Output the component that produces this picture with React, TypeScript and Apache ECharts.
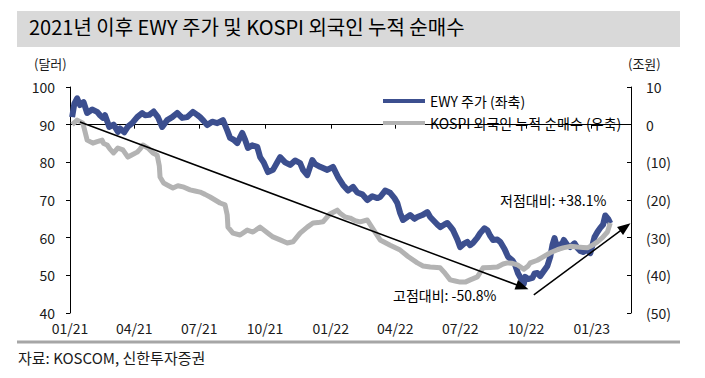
import React, { useEffect, useRef } from "react";
import * as echarts from "echarts";

// ---- data ----
const ewyDates = [
  "2021-01-04","2021-01-07","2021-01-11","2021-01-15","2021-01-20","2021-01-25","2021-02-01","2021-02-08","2021-02-12","2021-02-16",
  "2021-02-19","2021-02-25","2021-03-03","2021-03-09","2021-03-12","2021-03-18","2021-03-23","2021-03-29","2021-04-05","2021-04-12",
  "2021-04-16","2021-04-22","2021-04-28","2021-05-04","2021-05-10","2021-05-17","2021-05-24","2021-05-31","2021-06-07","2021-06-14",
  "2021-06-22","2021-06-28","2021-07-02","2021-07-07","2021-07-12","2021-07-19","2021-07-26","2021-08-03","2021-08-09","2021-08-13",
  "2021-08-18","2021-08-23","2021-08-30","2021-09-03","2021-09-07","2021-09-13","2021-09-20","2021-09-24","2021-09-29","2021-10-05",
  "2021-10-12","2021-10-18","2021-10-22","2021-10-29","2021-11-05","2021-11-12","2021-11-19","2021-11-23","2021-11-29","2021-12-06",
  "2021-12-10","2021-12-17","2021-12-27","2022-01-04","2022-01-11","2022-01-18","2022-01-25","2022-02-01","2022-02-07","2022-02-14",
  "2022-02-21","2022-02-28","2022-03-07","2022-03-11","2022-03-18","2022-03-25","2022-03-31","2022-04-04","2022-04-08","2022-04-12",
  "2022-04-18","2022-04-22","2022-04-28","2022-05-02","2022-05-09","2022-05-16","2022-05-20","2022-05-24","2022-05-30","2022-06-03",
  "2022-06-09","2022-06-13","2022-06-17","2022-06-21","2022-06-27","2022-07-01","2022-07-07","2022-07-11","2022-07-15","2022-07-19",
  "2022-07-25","2022-07-29","2022-08-04","2022-08-08","2022-08-12","2022-08-16","2022-08-22","2022-08-26","2022-09-01","2022-09-06",
  "2022-09-12","2022-09-16","2022-09-20","2022-09-26","2022-09-28","2022-09-30","2022-10-04","2022-10-10","2022-10-13","2022-10-17",
  "2022-10-21","2022-10-25","2022-10-31","2022-11-04","2022-11-07","2022-11-10","2022-11-14","2022-11-16","2022-11-21","2022-11-23",
  "2022-11-28","2022-12-02","2022-12-08","2022-12-12","2022-12-16","2022-12-20","2022-12-26","2022-12-30","2023-01-02","2023-01-05",
  "2023-01-09","2023-01-13","2023-01-17","2023-01-20","2023-01-24","2023-01-27"
];
const ewyPrice = [
  92, 95.5, 97, 95.2, 96, 93.1, 94, 93.4, 92.5, 91.8,
  92.5, 89.4, 90, 88.1, 89, 88, 89.5, 90.4, 92, 93.1,
  92.5, 92.6, 93.5, 92, 89.4, 91.2, 92, 93.1, 91.8, 92,
  93.4, 92.6, 92, 91, 89.9, 90.8, 90.4, 91.2, 88.5, 86.5,
  86, 85.1, 87.8, 86, 83.8, 84.5, 84.1, 81.4, 80, 77.4,
  78, 80, 81.4, 80, 79.3, 80.5, 79.8, 78, 76.6, 80.6,
  79.5, 78.8, 78, 78.8, 76.1, 74, 72.5, 73.5, 72, 71.5,
  70, 71, 70.5, 70.8, 72.5, 71.9, 70.5, 69.2, 66.5, 64.7,
  65.5, 66, 65, 65.5, 66, 66.8, 65.5, 64.7, 63.5, 62.8,
  63.5, 63.9, 63, 62, 59.5, 57.5, 58.5, 58.9, 58, 58.6,
  60, 61.2, 62.5, 62, 60.5, 59.4, 59.5, 58.9, 57, 54.9,
  54, 52.7, 50.5, 48.5, 47.7, 49.6, 49, 49.3, 50.5, 50.6,
  49.8, 50.9, 52.5, 54.9, 58, 59.9, 57, 58, 58.5, 59.4,
  58, 57.5, 58.5, 57.3, 56.5, 56.2, 56.8, 55.9, 58, 60.2,
  61.5, 62.6, 63.5, 65.9, 65, 63.8
];

const kospiDates = [
  "2021-01-04","2021-01-11","2021-01-15","2021-01-19","2021-01-25","2021-01-29","2021-02-02","2021-02-08","2021-02-15","2021-02-17",
  "2021-02-22","2021-02-26","2021-03-03","2021-03-09","2021-03-16","2021-03-23","2021-03-29","2021-04-05","2021-04-09","2021-04-13",
  "2021-04-20","2021-04-27","2021-05-03","2021-05-06","2021-05-07","2021-05-12","2021-05-17","2021-05-25","2021-06-01","2021-06-08",
  "2021-06-18","2021-06-25","2021-07-02","2021-07-09","2021-07-16","2021-07-23","2021-07-30","2021-08-06","2021-08-09","2021-08-10",
  "2021-08-17","2021-08-27","2021-09-06","2021-09-14","2021-09-24","2021-10-05","2021-10-12","2021-10-22","2021-11-01","2021-11-09",
  "2021-11-19","2021-11-29","2021-12-07","2021-12-14","2021-12-21","2021-12-30","2022-01-10","2022-01-14","2022-01-21","2022-01-28",
  "2022-02-04","2022-02-11","2022-02-21","2022-03-02","2022-03-11","2022-03-25","2022-04-08","2022-04-19","2022-05-02","2022-05-10",
  "2022-05-20","2022-06-03","2022-06-10","2022-06-17","2022-06-24","2022-07-01","2022-07-08","2022-07-15","2022-07-25","2022-08-02",
  "2022-08-12","2022-08-22","2022-08-30","2022-09-05","2022-09-12","2022-09-19","2022-09-28","2022-10-04","2022-10-07","2022-10-17",
  "2022-10-25","2022-11-04","2022-11-14","2022-11-22","2022-12-02","2022-12-12","2022-12-20","2022-12-26","2023-01-02","2023-01-09",
  "2023-01-16","2023-01-23","2023-01-27"
];
const kospiNetBuy = [
  0, 1.2, 0.8, 0.4, -4.1, -4.5, -4.9, -4.5, -4.1, -5,
  -5.4, -6.5, -7.5, -6.2, -6.7, -8.6, -8, -7.3, -6.5, -5.4,
  -6.2, -7.5, -8.1, -11, -13.9, -15.5, -16, -16.8, -16.2, -16.5,
  -17.3, -17.6, -17.9, -18.5, -19.2, -20, -20.8, -21.3, -24, -27.2,
  -28.8, -29.3, -28, -28.5, -27.2, -28.8, -29.8, -30.6, -31.4, -31.1,
  -28.8, -27.2, -26.1, -26, -25.8, -23.8, -22.7, -23.5, -24.5, -24.8,
  -25.5, -25.8, -25.3, -28, -30.6, -32, -33.3, -35, -36.7, -37.5,
  -37.8, -38, -39.5, -41.2, -41.5, -41.8, -41.8, -41.2, -40.4, -38,
  -37.9, -37.8, -37, -36.7, -36.8, -37.2, -38.4, -37.5, -36.7, -36,
  -35.1, -34, -33.2, -32.7, -32.3, -32.5, -32.6, -32.7, -32, -31.1,
  -30, -28.5, -26.1
];

const xTickDates = ["2021-01-01","2021-04-01","2021-07-01","2021-10-01","2022-01-01","2022-04-01","2022-07-01","2022-10-01","2023-01-01"];
const xAxisEnd = "2023-02-25";
const leftTicks = { min: 40, max: 100, interval: 10 };
const rightTicks = { min: -50, max: 10, interval: 10 };

// trend arrows: [date, EWY-axis value]
const arrowDown = [["2021-01-15", 90.7], ["2022-09-26", 46.9]];
const arrowUp = [["2022-10-12", 44.8], ["2023-02-17", 62.8]];

const seriesNames = ["EWY 주가 (좌축)", "KOSPI 외국인 누적 순매수 (우축)"];
const titleText = "2021년 이후 EWY 주가 및 KOSPI 외국인 누적 순매수";
const sourceText = "자료: KOSCOM, 신한투자증권";
const lowNote = "저점대비: +38.1%";
const highNote = "고점대비: -50.8%";

const FONT = "'Noto Sans CJK KR', 'Noto Sans', sans-serif";
const BASE = Date.parse("2021-01-01T00:00:00Z");
const dayOf = (s: string) => (Date.parse(s + "T00:00:00Z") - BASE) / 86400000;

export default function App() {
  const ref = useRef<HTMLDivElement>(null);
  useEffect(() => {
    if (!ref.current) return;
    const chart = echarts.init(ref.current, null, { renderer: "svg" });
    const ticks = xTickDates.map(dayOf);
    const fmtX = (v: number) => {
      const d = new Date(BASE + Math.round(v) * 86400000);
      const mm = String(d.getUTCMonth() + 1).padStart(2, "0");
      const yy = String(d.getUTCFullYear() % 100).padStart(2, "0");
      return `${mm}/${yy}`;
    };
    const option: any = {
      animation: false,
      backgroundColor: "#ffffff",
      textStyle: { fontFamily: FONT },
      grid: { left: 70, right: 74, top: 87, bottom: 65, containLabel: false },
      legend: {
        orient: "vertical",
        left: 383,
        top: 93,
        padding: 0,
        itemGap: 6,
        itemWidth: 42,
        itemHeight: 4,
        icon: "rect",
        textStyle: { fontFamily: FONT, fontSize: 14, color: "#000", lineHeight: 16, padding: [0, 0, 0, 0] },
        data: seriesNames,
      },
      xAxis: {
        type: "value",
        min: 0,
        max: dayOf(xAxisEnd),
        splitLine: { show: false },
        axisLine: { show: true, lineStyle: { color: "#000", width: 1 } },
        axisTick: { show: true, length: 4, customValues: ticks, lineStyle: { color: "#000" } },
        axisLabel: { customValues: ticks, formatter: fmtX, fontFamily: FONT, fontSize: 14, color: "#1a1a1a", margin: 8 },
      },
      yAxis: [
        {
          type: "value",
          position: "left",
          ...leftTicks,
          splitLine: { show: false },
          axisLine: { show: true, lineStyle: { color: "#000", width: 1 } },
          axisTick: { show: true, length: 4, lineStyle: { color: "#000" } },
          axisLabel: { fontFamily: FONT, fontSize: 14, color: "#1a1a1a", margin: 15 },
        },
        {
          type: "value",
          position: "right",
          ...rightTicks,
          splitLine: { show: false },
          axisLine: { show: true, lineStyle: { color: "#000", width: 1 } },
          axisTick: { show: true, inside: true, length: 4, lineStyle: { color: "#000" } },
          axisLabel: {
            fontFamily: FONT, fontSize: 14, color: "#1a1a1a", margin: 15,
            formatter: (v: number) => (v < 0 ? `(${-v})` : `${v}`),
          },
        },
      ],
      series: [
        {
          name: seriesNames[0],
          type: "line",
          yAxisIndex: 0,
          showSymbol: false,
          color: "#3c4f8f",
          lineStyle: { color: "#3c4f8f", width: 6, join: "round" },
          data: ewyDates.map((d, i) => [dayOf(d), ewyPrice[i]]),
          markLine: {
            silent: true,
            symbol: ["none", "triangle"],
            symbolSize: [10, 13],
            label: { show: false },
            lineStyle: { color: "#000", width: 1.5, type: "solid" },
            itemStyle: { color: "#000" },
            data: [arrowDown, arrowUp].map((a) => [
              { coord: [dayOf(a[0][0] as string), a[0][1]] },
              { coord: [dayOf(a[1][0] as string), a[1][1]] },
            ]),
          },
        },
        {
          name: seriesNames[1],
          type: "line",
          yAxisIndex: 1,
          showSymbol: false,
          color: "#b3b3b3",
          lineStyle: { color: "#b3b3b3", width: 5, join: "round" },
          data: kospiDates.map((d, i) => [dayOf(d), kospiNetBuy[i]]),
        },
      ],
      graphic: [
        { type: "rect", left: 17, top: 11, shape: { width: 663, height: 36 }, style: { fill: "#d9d9d9" }, silent: true },
        { type: "text", left: 29, top: 16, style: { text: titleText, font: `20px ${FONT}`, fill: "#000" } },
        { type: "text", left: 34, top: 57, style: { text: "(달러)", font: `13px ${FONT}`, fill: "#1a1a1a" } },
        { type: "text", left: 628, top: 57, style: { text: "(조원)", font: `13px ${FONT}`, fill: "#1a1a1a" } },
        { type: "text", left: 500, top: 193, style: { text: lowNote, font: `14px ${FONT}`, fill: "#000" } },
        { type: "text", left: 393, top: 288, style: { text: highNote, font: `14px ${FONT}`, fill: "#000" } },
        { type: "line", shape: { x1: 17, y1: 342, x2: 680, y2: 342 }, style: { stroke: "#a6a6a6", lineWidth: 3 }, silent: true },
        { type: "text", left: 18, top: 350, style: { text: sourceText, font: `15px ${FONT}`, fill: "#1a1a1a" } },
      ],
    };
    chart.setOption(option);
    return () => chart.dispose();
  }, []);
  return (
    <div
      ref={ref}
      style={{ position: "fixed", left: 0, top: 0, width: 705, height: 378, background: "#fff" }}
    />
  );
}
